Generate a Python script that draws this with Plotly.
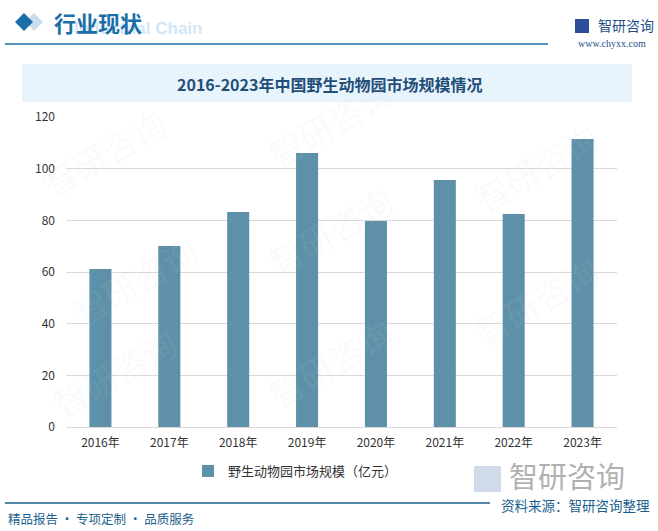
import plotly.graph_objects as go

years = ["2016年", "2017年", "2018年", "2019年", "2020年", "2021年", "2022年", "2023年"]
values = [61.2, 70.1, 83.2, 106.1, 79.7, 95.6, 82.5, 111.5]
series_name = "野生动物园市场规模（亿元）"
y_ticks = [0, 20, 40, 60, 80, 100, 120]

W, H = 658, 531
L, R, T, B = 66, 41, 117, 104
PW, PH = W - L - R, H - T - B


def px_x(x):
    return (x - L) / PW


def px_y(y):
    return (H - B - y) / PH


fig = go.Figure()
fig.add_trace(go.Bar(
    x=years, y=values, name=series_name,
    marker=dict(color="#5e91a9", line=dict(width=0)),
    showlegend=True,
))

shapes = []
annotations = []

# faint watermarks
for (wx, wy) in [(30, 95), (330, 65), (610, 110), (60, 280), (330, 230), (610, 300), (40, 430), (330, 420)]:
    annotations.append(dict(xref="paper", yref="paper", x=px_x(wx), y=px_y(wy),
                            text="智研咨询", showarrow=False, textangle=-30,
                            font=dict(size=34, color="rgba(200,208,216,0.10)", family="Noto Sans CJK SC")))

# header diamonds
shapes.append(dict(type="path", xref="paper", yref="paper",
                   path=f"M {px_x(34)},{px_y(13)} L {px_x(43)},{px_y(22)} L {px_x(34)},{px_y(31)} L {px_x(25)},{px_y(22)} Z",
                   fillcolor="#c9dfee", line=dict(width=0), layer="above"))
shapes.append(dict(type="path", xref="paper", yref="paper",
                   path=f"M {px_x(24)},{px_y(13)} L {px_x(33)},{px_y(22)} L {px_x(24)},{px_y(31)} L {px_x(15)},{px_y(22)} Z",
                   fillcolor="#1a6fa8", line=dict(width=0), layer="above"))
# header line
shapes.append(dict(type="line", xref="paper", yref="paper",
                   x0=px_x(5), x1=px_x(548), y0=px_y(44), y1=px_y(44),
                   line=dict(color="#1a6fa8", width=1.5)))
# title box
shapes.append(dict(type="rect", xref="paper", yref="paper",
                   x0=px_x(22), x1=px_x(632), y0=px_y(64), y1=px_y(102),
                   fillcolor="#e8f4fc", line=dict(width=0), layer="below"))
# bottom line
shapes.append(dict(type="line", xref="paper", yref="paper",
                   x0=px_x(5), x1=px_x(490), y0=px_y(503), y1=px_y(503),
                   line=dict(color="#1a5f8f", width=1.5)))
# right logo icon (small)
shapes.append(dict(type="rect", xref="paper", yref="paper",
                   x0=px_x(575), x1=px_x(589), y0=px_y(19), y1=px_y(33),
                   fillcolor="#2b4f9a", line=dict(width=0)))
# big gray logo icon
shapes.append(dict(type="rect", xref="paper", yref="paper",
                   x0=px_x(474), x1=px_x(501), y0=px_y(466), y1=px_y(492),
                   fillcolor="rgba(170,190,215,0.55)", line=dict(width=0)))

annotations += [
    dict(xref="paper", yref="paper", x=px_x(72), y=px_y(28), xanchor="left", yanchor="middle",
         text="<b>Industrial Chain</b>", showarrow=False,
         font=dict(size=17, color="rgba(205,228,246,0.9)", family="Liberation Sans")),
    dict(xref="paper", yref="paper", x=px_x(52), y=px_y(22), xanchor="left", yanchor="middle",
         text="<b>行业现状</b>", showarrow=False,
         font=dict(size=22, color="#1a6fa8", family="Noto Sans CJK SC")),
    dict(xref="paper", yref="paper", x=px_x(596), y=px_y(25), xanchor="left", yanchor="middle",
         text="智研咨询", showarrow=False,
         font=dict(size=14, color="#1f4f8a", family="Noto Sans CJK SC")),
    dict(xref="paper", yref="paper", x=px_x(612), y=px_y(44), xanchor="center", yanchor="middle",
         text="www.chyxx.com", showarrow=False,
         font=dict(size=10, color="#1f4f8a", family="Liberation Serif")),
    dict(xref="paper", yref="paper", x=px_x(329), y=px_y(84), xanchor="center", yanchor="middle",
         text="<b>2016-2023年中国野生动物园市场规模情况</b>", showarrow=False,
         font=dict(size=16, color="#1f4e79", family="Noto Sans CJK SC")),
    dict(xref="paper", yref="paper", x=px_x(507), y=px_y(475), xanchor="left", yanchor="middle",
         text="智研咨询", showarrow=False,
         font=dict(size=29, color="rgba(150,150,150,0.75)", family="Noto Sans CJK SC")),
    dict(xref="paper", yref="paper", x=px_x(652), y=px_y(505), xanchor="right", yanchor="middle",
         text="资料来源：智研咨询整理", showarrow=False,
         font=dict(size=13.5, color="#1a5f8f", family="Noto Sans CJK SC")),
    dict(xref="paper", yref="paper", x=px_x(6), y=px_y(518), xanchor="left", yanchor="middle",
         text="精品报告 · 专项定制 · 品质服务", showarrow=False,
         font=dict(size=12.5, color="#1a5f8f", family="Noto Sans CJK SC")),
]

fig.update_layout(
    width=W, height=H,
    margin=dict(l=L, r=R, t=T, b=B, pad=0, autoexpand=False),
    paper_bgcolor="white", plot_bgcolor="white",
    bargap=0.68,
    font=dict(family="Noto Sans CJK SC", size=12, color="#333333"),
    xaxis=dict(showgrid=False, showline=True, linecolor="#d9d9d9", linewidth=1,
               ticks="", tickfont=dict(size=12, color="#333333"), fixedrange=True,
               ticklabelstandoff=5, automargin=False),
    yaxis=dict(range=[0, 120], tickvals=y_ticks, showgrid=True, gridcolor="#d9d9d9",
               gridwidth=1, zeroline=False, showline=False, ticks="",
               tickfont=dict(size=12, color="#333333"), ticklabelstandoff=10, fixedrange=True,
               automargin=False),
    legend=dict(orientation="h", x=px_x(188), y=px_y(471),
                xanchor="left", yanchor="middle", font=dict(size=13, color="#333333"),
                bgcolor="rgba(0,0,0,0)"),
    shapes=shapes,
    annotations=annotations,
)

fig.write_html("out.html", config={"displayModeBar": False},
               post_script="document.body.style.margin='0';document.body.style.padding='0';document.body.style.overflow='hidden';")
